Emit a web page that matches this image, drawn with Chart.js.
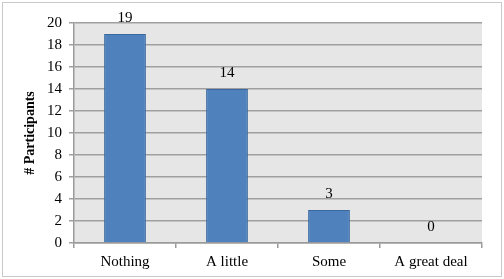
<!DOCTYPE html>
<html lang="en">
<head>
  <meta charset="UTF-8" />
  <title>Participants by amount</title>
  <script src="https://cdn.jsdelivr.net/npm/chart.js"></script>
  <style>
    body { margin: 0; background: #fff; }
    #wrap { position: relative; width: 504px; height: 279px; }
    #frame { position: absolute; left: 2px; top: 2px; width: 498px; height: 273px; border: 1px solid #c8c8c8; pointer-events: none; }
  </style>
</head>
<body>
  <div id="wrap">
    <canvas id="chart" width="504" height="279"></canvas>
    <div id="frame"></div>
  </div>

  <script>
    const categories = ['Nothing', 'A little', 'Some', 'A great deal'];
    const participants = [19, 14, 3, 0];
    const yTicks = [0, 2, 4, 6, 8, 10, 12, 14, 16, 18, 20];

    const font = { family: '"Liberation Serif", "Times New Roman", serif', size: 15 };

    // grey plot background
    const plotBg = {
      id: 'plotBg',
      beforeDraw(chart) {
        const a = chart.chartArea, ctx = chart.ctx;
        ctx.save();
        ctx.fillStyle = '#e6e6e6';
        ctx.fillRect(a.left, a.top, a.right - a.left, a.bottom - a.top);
        ctx.restore();
      }
    };

    // value labels above each bar
    const valueLabels = {
      id: 'valueLabels',
      afterDatasetsDraw(chart) {
        const ctx = chart.ctx;
        const meta = chart.getDatasetMeta(0);
        ctx.save();
        ctx.font = font.size + 'px ' + font.family;
        ctx.fillStyle = '#000';
        ctx.textAlign = 'center';
        ctx.textBaseline = 'middle';
        meta.data.forEach((bar, i) => {
          ctx.fillText(String(participants[i]), bar.x, bar.y - 16);
        });
        ctx.restore();
      }
    };

    new Chart(document.getElementById('chart'), {
      type: 'bar',
      data: {
        labels: categories,
        datasets: [{
          data: participants,
          backgroundColor: '#4f81bd',
          borderColor: '#3a689e',
          borderWidth: 1,
          categoryPercentage: 1,
          barPercentage: 0.41
        }]
      },
      options: {
        responsive: false,
        animation: false,
        layout: { padding: { top: 23, right: 22, left: 0, bottom: 0 } },
        plugins: { legend: { display: false }, tooltip: { enabled: false } },
        scales: {
          x: {
            offset: true,
            grid: { display: true, offset: true, drawOnChartArea: false, color: '#9a9a9a', lineWidth: 1.5, tickLength: 5 },
            border: { color: '#9a9a9a', width: 1.5 },
            ticks: { color: '#000', font, padding: 5 },
            afterFit(s) { s.height = 36; }
          },
          y: {
            min: 0, max: 20,
            afterBuildTicks(s) { s.ticks = yTicks.map(v => ({ value: v })); },
            grid: { color: '#a0a0a0', lineWidth: 1.5, tickLength: 5 },
            border: { color: '#9a9a9a', width: 1.5 },
            ticks: { color: '#000', font, padding: 7 },
            title: {
              display: true, text: '# Participants', color: '#000',
              font: { family: font.family, size: 14, weight: 'bold' },
              padding: { top: 22, bottom: 0 }
            },
            afterFit(s) { s.width = 74; }
          }
        }
      },
      plugins: [plotBg, valueLabels]
    });
  </script>
</body>
</html>
